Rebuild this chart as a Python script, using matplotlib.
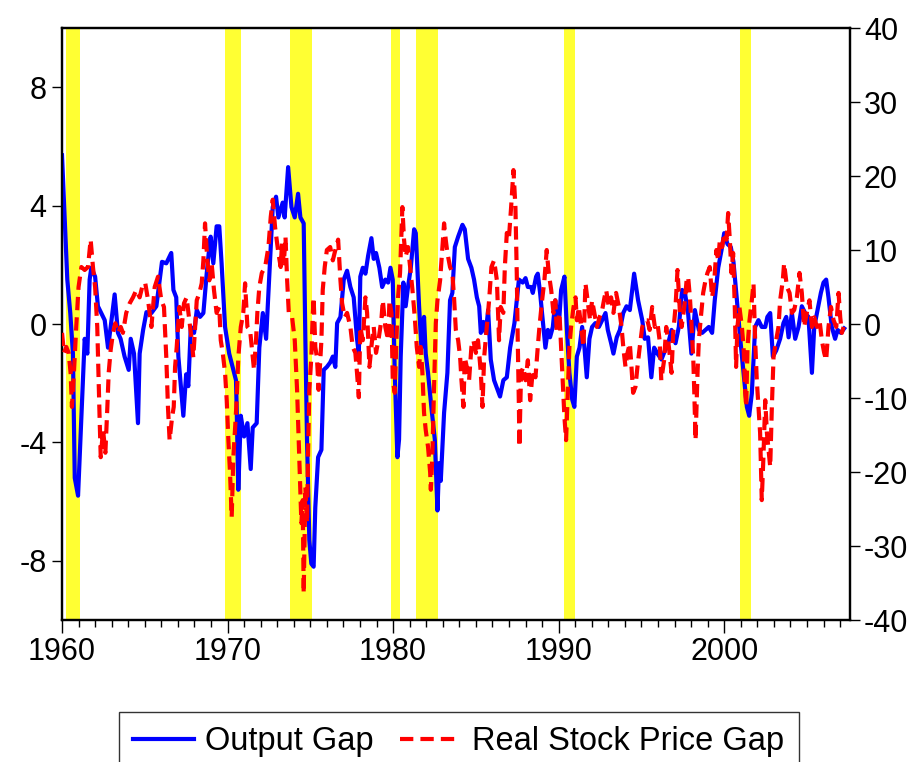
import matplotlib
matplotlib.use("Agg")
import matplotlib.pyplot as plt
from matplotlib.lines import Line2D

plt.rcParams['font.family'] = ['Liberation Sans', 'DejaVu Sans']
plt.rcParams['axes.unicode_minus'] = False

# ---------------- data ----------------
out_dates = [1960.0, 1960.2, 1960.32, 1960.5, 1960.66, 1960.77, 1960.97, 1961.13, 1961.37, 1961.53, 1961.67, 1961.77,
             1962.0, 1962.17, 1962.37, 1962.58, 1962.78, 1962.94, 1963.18, 1963.38, 1963.54, 1963.78, 1964.03, 1964.15,
             1964.35, 1964.59, 1964.69, 1964.9, 1965.1, 1965.4, 1965.7, 1965.9, 1966.04, 1966.3, 1966.6, 1966.73,
             1966.9, 1967.03, 1967.33, 1967.5, 1967.63, 1967.78, 1967.98, 1968.14, 1968.34, 1968.54, 1968.74, 1968.9,
             1968.98, 1969.14, 1969.34, 1969.5, 1969.64, 1969.85, 1970.1, 1970.35, 1970.51, 1970.55, 1970.65, 1970.8,
             1971.0, 1971.2, 1971.4, 1971.52, 1971.76, 1971.92, 1972.13, 1972.33, 1972.53, 1972.73, 1972.93, 1973.07,
             1973.33, 1973.45, 1973.66, 1973.86, 1974.06, 1974.26, 1974.4, 1974.6, 1974.7, 1974.8, 1974.94, 1975.06,
             1975.2, 1975.3, 1975.47, 1975.67, 1975.81, 1976.0, 1976.2, 1976.36, 1976.51, 1976.62, 1976.82, 1977.02,
             1977.22, 1977.42, 1977.62, 1977.82, 1977.93, 1978.02, 1978.17, 1978.33, 1978.49, 1978.69, 1978.83, 1978.97,
             1979.17, 1979.34, 1979.53, 1979.7, 1979.84, 1979.98, 1980.1, 1980.26, 1980.36, 1980.46, 1980.62, 1980.76,
             1980.9, 1981.07, 1981.27, 1981.37, 1981.57, 1981.71, 1981.87, 1981.97, 1982.11, 1982.31, 1982.52, 1982.68,
             1982.78, 1982.88, 1983.08, 1983.28, 1983.44, 1983.58, 1983.73, 1983.93, 1984.19, 1984.33, 1984.53, 1984.73,
             1984.89, 1985.06, 1985.2, 1985.3, 1985.46, 1985.6, 1985.74, 1985.9, 1986.1, 1986.3, 1986.46, 1986.66,
             1986.87, 1987.07, 1987.33, 1987.47, 1987.6, 1987.83, 1988.0, 1988.14, 1988.34, 1988.44, 1988.64, 1988.74,
             1988.88, 1989.04, 1989.2, 1989.35, 1989.48, 1989.65, 1989.8, 1990.01, 1990.15, 1990.35, 1990.49, 1990.65,
             1990.82, 1990.95, 1991.1, 1991.26, 1991.42, 1991.56, 1991.7, 1991.86, 1992.02, 1992.22, 1992.43, 1992.63,
             1992.83, 1992.97, 1993.17, 1993.31, 1993.51, 1993.7, 1993.9, 1994.1, 1994.3, 1994.56, 1994.8, 1995.05,
             1995.2, 1995.4, 1995.6, 1995.77, 1995.97, 1996.21, 1996.42, 1996.62, 1996.82, 1997.06, 1997.26, 1997.46,
             1997.63, 1997.82, 1998.02, 1998.23, 1998.47, 1998.67, 1998.87, 1999.07, 1999.27, 1999.43, 1999.64, 1999.84,
             2000.0, 2000.2, 2000.4, 2000.56, 2000.77, 2000.97, 2001.17, 2001.37, 2001.51, 2001.67, 2001.87, 2002.07,
             2002.27, 2002.48, 2002.61, 2002.78, 2002.94, 2003.14, 2003.38, 2003.58, 2003.75, 2003.89, 2004.09, 2004.29,
             2004.49, 2004.69, 2004.89, 2005.09, 2005.3, 2005.44, 2005.64, 2005.84, 2006.0, 2006.16, 2006.3, 2006.5,
             2006.7, 2006.85, 2007.05, 2007.25]
output_gap = [5.7, 3.07, 1.5, 0.37, -1.0, -5.2, -5.8, -3.7, -0.5, -1.0, 1.5, 1.9,
              1.6, 0.6, 0.37, 0.13, -0.8, -0.1, 1.0, -0.3, -0.5, -1.1, -1.55, -0.5,
              -1.0, -3.35, -1.0, -0.2, 0.4, 0.37, 0.6, 1.5, 2.1, 2.05, 2.4, 1.15,
              0.9, -1.1, -3.1, -1.7, -2.1, -0.1, -0.3, 0.47, 0.24, 0.37, 1.7, 2.6,
              2.95, 2.05, 3.3, 3.3, 2.05, -0.1, -1.0, -1.55, -1.9, -2.8, -5.6, -3.1,
              -3.8, -3.35, -4.9, -3.5, -3.35, -0.8, 0.37, -0.5, 1.7, 3.95, 4.3, 3.6,
              4.1, 3.6, 5.3, 3.95, 3.6, 4.4, 3.6, 3.4, -0.5, -3.9, -7.3, -8.1,
              -8.2, -6.2, -4.5, -4.25, -1.55, -1.45, -1.3, -1.1, -1.45, 0.03, 0.24, 1.5,
              1.8, 1.25, 0.9, -0.5, -1.0, 1.6, 1.9, 1.7, 2.3, 2.9, 2.2, 2.4,
              1.9, 1.25, 1.5, 1.4, 1.9, 1.5, -1.65, -4.5, -3.9, -1.1, 1.4, 0.6,
              1.25, 1.9, 3.2, 3.07, 0.6, -0.8, 0.24, -1.0, -1.65, -2.8, -3.9, -6.3,
              -4.7, -5.3, -3.0, -1.65, 0.8, 1.05, 2.6, 2.95, 3.35, 3.2, 2.2, 1.9,
              1.5, 0.9, 0.6, -0.3, 0.07, -0.3, 0.47, -1.2, -1.9, -2.2, -2.45, -1.9,
              -1.8, -0.8, 0.03, 0.8, 1.5, 1.4, 1.55, 1.25, 1.25, 1.05, 1.6, 1.7,
              1.05, 0.13, -0.8, -0.2, -0.45, -0.1, 0.8, -0.1, 1.15, 1.6, -0.1, -1.65,
              -2.55, -2.8, -1.1, -0.8, -0.1, -0.8, -1.8, -0.5, -0.1, 0.03, -0.1, 0.13,
              0.37, -0.2, -0.65, -1.0, -0.45, -0.2, 0.37, 0.6, 0.47, 1.7, 0.8, 0.13,
              -0.5, -0.45, -1.8, -0.8, -1.0, -1.2, -0.9, -0.65, -0.2, -0.65, -0.1, 1.15,
              1.05, 0.37, -1.0, 0.47, -0.2, -0.3, -0.2, -0.1, -0.3, 0.8, 1.9, 2.5,
              3.07, 2.7, 2.6, 2.1, 0.8, -0.5, -1.65, -2.8, -3.1, -2.35, -0.1, 0.13,
              -0.1, -0.1, 0.24, 0.37, -1.1, -0.9, -0.5, 0.03, 0.24, -0.45, 0.37, -0.5,
              -0.1, 0.6, 0.37, 0.24, -1.65, -0.1, 0.47, 1.05, 1.4, 1.5, 0.9, -0.1,
              -0.5, -0.2, -0.3, -0.15]

stock_dates = [1960.0, 1960.12, 1960.26, 1960.4, 1960.52, 1960.6, 1960.72, 1960.86, 1961.0, 1961.17, 1961.37, 1961.57,
               1961.73, 1961.87, 1962.0, 1962.13, 1962.2, 1962.28, 1962.34, 1962.48, 1962.62, 1962.74, 1962.82, 1962.94,
               1963.08, 1963.22, 1963.38, 1963.55, 1963.68, 1963.88, 1964.09, 1964.29, 1964.49, 1964.69, 1964.9, 1965.03,
               1965.2, 1965.4, 1965.6, 1965.8, 1966.0, 1966.16, 1966.3, 1966.4, 1966.5, 1966.65, 1966.75, 1966.83,
               1966.93, 1967.09, 1967.23, 1967.37, 1967.53, 1967.69, 1967.84, 1967.93, 1968.04, 1968.14, 1968.3, 1968.44,
               1968.54, 1968.64, 1968.78, 1968.9, 1969.04, 1969.18, 1969.34, 1969.5, 1969.59, 1969.71, 1969.85, 1969.95,
               1970.05, 1970.15, 1970.25, 1970.35, 1970.45, 1970.55, 1970.65, 1970.8, 1970.95, 1971.06, 1971.2, 1971.36,
               1971.46, 1971.6, 1971.72, 1971.8, 1971.92, 1972.07, 1972.27, 1972.47, 1972.61, 1972.73, 1972.87, 1973.07,
               1973.21, 1973.29, 1973.4, 1973.5, 1973.6, 1973.7, 1973.9, 1974.06, 1974.2, 1974.3, 1974.4, 1974.46,
               1974.54, 1974.6, 1974.7, 1974.8, 1974.86, 1974.94, 1975.06, 1975.14, 1975.2, 1975.3, 1975.4, 1975.5,
               1975.67, 1975.75, 1975.87, 1976.0, 1976.2, 1976.36, 1976.51, 1976.68, 1976.82, 1976.92, 1977.08, 1977.22,
               1977.42, 1977.56, 1977.72, 1977.82, 1977.93, 1978.02, 1978.17, 1978.33, 1978.43, 1978.57, 1978.73, 1978.83,
               1978.97, 1979.14, 1979.29, 1979.38, 1979.53, 1979.7, 1979.78, 1979.9, 1979.98, 1980.1, 1980.2, 1980.3,
               1980.42, 1980.56, 1980.66, 1980.76, 1980.9, 1981.03, 1981.17, 1981.31, 1981.43, 1981.57, 1981.67, 1981.77,
               1981.87, 1981.97, 1982.11, 1982.24, 1982.28, 1982.37, 1982.47, 1982.58, 1982.68, 1982.84, 1982.98, 1983.08,
               1983.18, 1983.28, 1983.44, 1983.58, 1983.68, 1983.79, 1983.93, 1984.05, 1984.13, 1984.25, 1984.33, 1984.45,
               1984.59, 1984.73, 1984.85, 1985.0, 1985.13, 1985.3, 1985.4, 1985.5, 1985.66, 1985.8, 1985.94, 1986.1,
               1986.27, 1986.4, 1986.5, 1986.66, 1986.75, 1986.87, 1986.99, 1987.13, 1987.27, 1987.39, 1987.47, 1987.53,
               1987.6, 1987.63, 1987.73, 1987.87, 1988.0, 1988.14, 1988.28, 1988.44, 1988.6, 1988.74, 1988.84, 1989.0,
               1989.14, 1989.28, 1989.4, 1989.55, 1989.69, 1989.8, 1989.89, 1990.05, 1990.15, 1990.25, 1990.35, 1990.45,
               1990.56, 1990.65, 1990.75, 1990.9, 1991.02, 1991.1, 1991.22, 1991.36, 1991.5, 1991.62, 1991.77, 1991.9,
               1992.02, 1992.16, 1992.31, 1992.47, 1992.63, 1992.77, 1992.87, 1993.03, 1993.17, 1993.31, 1993.47, 1993.64,
               1993.8, 1993.92, 1994.04, 1994.16, 1994.3, 1994.4, 1994.5, 1994.64, 1994.76, 1994.9, 1995.05, 1995.2,
               1995.36, 1995.5, 1995.65, 1995.81, 1995.97, 1996.1, 1996.2, 1996.37, 1996.5, 1996.66, 1996.82, 1996.92,
               1997.06, 1997.18, 1997.33, 1997.43, 1997.59, 1997.73, 1997.82, 1997.93, 1998.02, 1998.13, 1998.19, 1998.27,
               1998.39, 1998.47, 1998.59, 1998.73, 1998.87, 1998.99, 1999.13, 1999.27, 1999.39, 1999.53, 1999.64, 1999.74,
               1999.88, 2000.0, 2000.14, 2000.24, 2000.34, 2000.44, 2000.54, 2000.64, 2000.72, 2000.8, 2000.92, 2001.07,
               2001.17, 2001.27, 2001.33, 2001.41, 2001.53, 2001.67, 2001.77, 2001.87, 2001.97, 2002.07, 2002.17, 2002.27,
               2002.37, 2002.48, 2002.58, 2002.68, 2002.78, 2002.88, 2002.98, 2003.14, 2003.28, 2003.38, 2003.54, 2003.62,
               2003.79, 2003.95, 2004.09, 2004.23, 2004.39, 2004.55, 2004.69, 2004.83, 2004.99, 2005.15, 2005.3, 2005.44,
               2005.6, 2005.76, 2005.9, 2006.04, 2006.16, 2006.3, 2006.45, 2006.61, 2006.77, 2006.91, 2007.01, 2007.11,
               2007.21]
stock_gap = [-1.2, -3.9, -3.1, -3.9, -6.6, -11.2, -6.6, -0.4, 5.0, 7.7, 7.3, 7.7,
             11.4, 7.7, 5.0, -0.4, -6.6, -13.4, -18.0, -14.3, -17.4, -11.2, -6.6, -3.5,
             -1.2, 0.1, -1.2, -0.4, -1.2, 1.5, 2.8, 3.6, 4.6, 3.6, 5.5, 5.5,
             3.2, -0.4, 5.0, 6.4, 3.2, 2.3, -4.5, -11.2, -15.7, -12.6, -11.2, -5.8,
             -3.1, 2.3, -0.4, 2.8, 3.6, 0.5, -2.2, -4.5, -0.4, 3.2, 4.2, 5.5,
             8.6, 13.6, 8.6, 5.9, 8.2, 4.6, 1.5, 2.3, -2.2, -3.9, -6.6, -10.3,
             -15.7, -20.1, -26.1, -18.0, -14.3, -10.3, -4.5, -0.4, 1.5, 5.5, -0.4, -0.8,
             -3.1, -6.2, -2.2, 1.5, 5.0, 6.9, 7.7, 10.4, 14.5, 16.8, 13.1, 9.6,
             7.7, 10.9, 8.2, 11.8, 5.9, 1.5, 0.9, -2.2, -8.9, -15.7, -22.4, -26.9,
             -23.8, -36.4, -22.0, -26.9, -18.0, -8.9, -4.5, 0.9, 3.6, -3.1, -4.5, -8.9,
             -2.2, 4.6, 7.7, 10.0, 10.4, 8.6, 10.0, 11.4, 5.9, 2.8, 0.9, 1.5,
             -0.4, -3.1, -3.9, -6.6, -9.9, -0.4, -2.2, 3.6, 1.5, -5.8, -2.2, -0.4,
             -3.9, -1.8, 0.5, 3.2, -0.4, -2.2, 3.2, 1.5, -7.6, -9.3, -2.2, 3.6,
             6.9, 15.8, 11.4, 9.1, 10.4, 7.7, 4.6, 0.9, -3.1, -5.8, -3.1, -6.6,
             -12.0, -14.3, -16.6, -20.1, -22.4, -18.0, -8.9, 0.1, 3.2, 5.9, 10.4, 13.6,
             11.4, 9.6, 7.7, 6.9, 3.6, -0.8, -2.2, -4.5, -7.6, -11.2, -4.5, -5.8,
             -7.6, -3.1, -2.2, -3.9, -2.2, -6.6, -11.2, -4.5, -0.4, 3.2, 7.7, 8.6,
             5.9, -2.2, 2.3, 1.5, 7.7, 12.3, 11.4, 15.8, 20.8, 15.8, 6.9, -2.2,
             -11.2, -16.6, -6.6, -5.8, -7.6, -4.9, -10.3, -6.2, -7.2, -3.1, -0.4, 3.2,
             5.9, 10.0, 6.9, 4.6, 1.5, 3.2, -1.2, 1.5, -3.1, -7.6, -12.6, -15.7,
             -8.9, -3.1, -0.4, 2.3, 3.6, 0.5, 2.3, -0.4, -3.1, 5.5, 2.8, 0.5,
             3.2, 1.5, -0.4, 0.9, 1.9, 3.6, 4.6, 2.3, 3.6, 1.5, 4.2, 2.3,
             -0.4, -3.5, -5.8, -3.9, -2.6, -5.8, -9.3, -8.5, -5.8, -3.1, -0.4, 0.5,
             0.5, -0.8, 2.3, -0.4, 0.1, -2.2, -7.6, -4.9, -0.4, -3.1, -6.6, -1.2,
             2.3, 7.3, 1.5, -0.4, 2.3, 5.9, 6.4, 3.6, 0.1, -4.5, -8.9, -15.7,
             -6.6, -2.2, 0.9, 4.2, 5.9, 6.9, 7.7, 3.6, 5.5, 10.0, 8.6, 11.4,
             10.4, 12.3, 11.4, 15.0, 11.4, 6.9, 9.6, 2.3, -5.8, -0.4, 2.3, -0.4,
             -3.1, -9.3, -11.2, -3.1, 0.5, 3.2, 5.5, -2.2, -7.6, -11.2, -14.7, -23.8,
             -18.0, -10.3, -14.7, -17.0, -19.3, -11.2, -4.5, -2.2, -0.4, 3.2, 5.9, 8.2,
             5.0, 4.2, 1.5, 1.9, 3.6, 6.9, 4.2, -0.4, 1.5, 3.2, -0.4, 0.9,
             -0.4, 0.5, -2.2, -3.9, -4.9, -0.4, 2.3, 0.5, -0.4, 4.2, 0.9, -1.2,
             -0.4]

# recession periods (start, end) in fractional years, as shaded in the reference
rec_start = [1960.25, 1969.85, 1973.75, 1979.9, 1981.4, 1990.3, 2000.95]
rec_end = [1961.08, 1970.82, 1975.1, 1980.42, 1982.72, 1991.0, 2001.62]

x_ticks = [1960, 1970, 1980, 1990, 2000]
left_ticks = [-8, -4, 0, 4, 8]
right_ticks = [-40, -30, -20, -10, 0, 10, 20, 30, 40]

# ---------------- figure ----------------
fig = plt.figure(figsize=(9.23, 7.62), dpi=100)
ax1 = fig.add_axes([62 / 923, 1 - 620 / 762, (850 - 62) / 923, (620 - 28) / 762])
ax2 = ax1.twinx()

for s, e in zip(rec_start, rec_end):
    ax1.axvspan(s, e, color='#FFFF33', lw=0, zorder=0)

lw = 3.0
ax1.plot(out_dates, output_gap, color='#0000FF', lw=lw, zorder=3, solid_joinstyle='round')
ax2.plot(stock_dates, stock_gap, color='#FF0000', lw=lw, dashes=(3.2, 1.7), zorder=3)

ax1.set_xlim(1960.0, 2007.6)
ax1.set_ylim(-10, 10)
ax2.set_ylim(-40, 40)

ax1.set_xticks(x_ticks)
ax1.set_xticks(list(range(1960, 2008)), minor=True)
ax1.set_yticks(left_ticks)
ax2.set_yticks(right_ticks)
ax1.set_xticklabels([str(v) for v in x_ticks])
ax1.set_yticklabels([str(v) for v in left_ticks])
ax2.set_yticklabels([str(v) for v in right_ticks])

fs = 22
ax1.tick_params(axis='x', which='major', direction='out', length=9, width=1, pad=3, labelsize=fs)
ax1.tick_params(axis='x', which='minor', direction='out', length=5, width=1)
ax1.tick_params(axis='y', direction='out', length=7, width=1, pad=4, labelsize=fs)
ax2.tick_params(axis='y', direction='out', length=7, width=1, pad=3, labelsize=fs)

for ax in (ax1, ax2):
    for sp in ax.spines.values():
        sp.set_linewidth(1.6)
        sp.set_color('black')

handles = [Line2D([], [], color='#0000FF', lw=lw),
           Line2D([], [], color='#FF0000', lw=lw, dashes=(3.2, 1.7))]
leg = fig.legend(handles, ['Output Gap', 'Real Stock Price Gap'], loc='upper center',
                 bbox_to_anchor=(0.497, 0.066), ncol=2, fontsize=23.5, frameon=True,
                 fancybox=False, edgecolor='black', handlelength=1.85, handletextpad=0.35,
                 columnspacing=0.8, borderpad=0.45, borderaxespad=0)
leg.get_frame().set_linewidth(1.0)

fig.savefig('out.png', dpi=100)
